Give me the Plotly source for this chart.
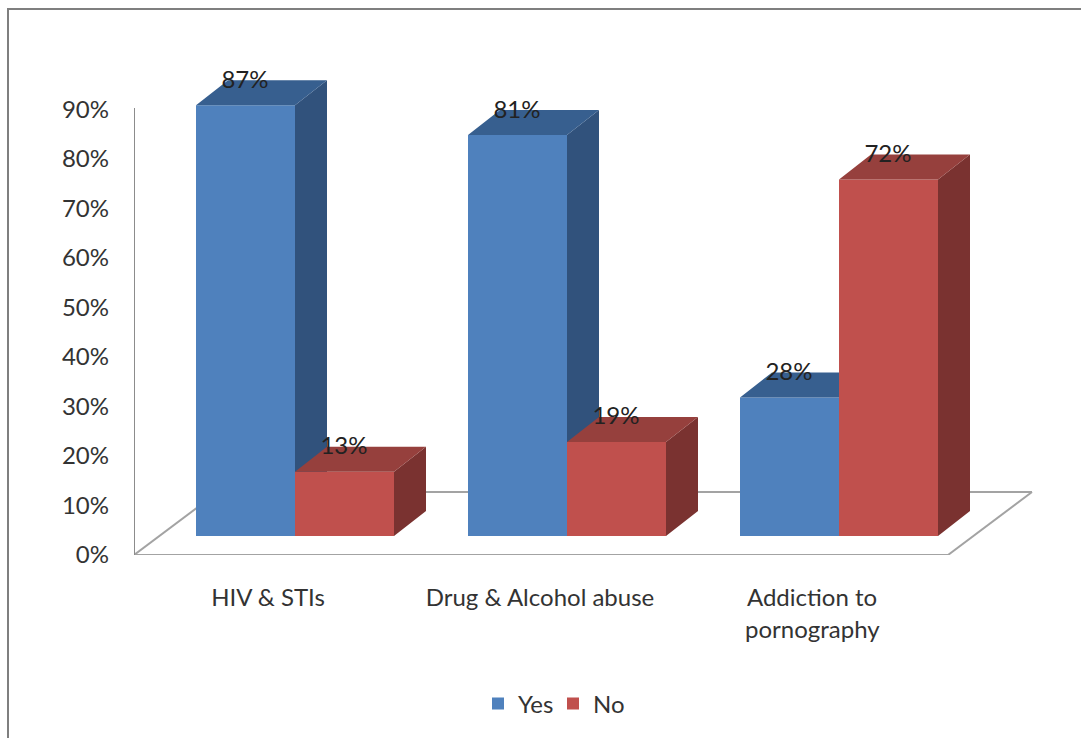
import plotly.graph_objects as go

# Survey results, percent of respondents
categories = ["HIV & STIs", "Drug & Alcohol abuse", "Addiction to", ]
second_lines = ["", "", "pornography"]
yes_values = [87, 81, 28]
no_values = [13, 19, 72]
percent_ticks = [0, 10, 20, 30, 40, 50, 60, 70, 80, 90]

WIDTH, HEIGHT = 1081, 738
FONT = "Lato, Carlito, 'Open Sans', sans-serif"
FONT_SIZE = 24
TEXT = "#333333"
GRID = "#a3a3a3"

# Plot frame, with the percent scale anchored on the front edge of the floor
LEFT, RIGHT, TOP, ZERO_Y = 134, 1040, 40, 555
PX_PER_PCT = 4.95
PX_PER_CAT = 272
FIRST_CAT_X = 268


def xval(px):
    return (px - FIRST_CAT_X) / PX_PER_CAT


def yval(px):
    return (ZERO_Y - px) / PX_PER_PCT


def xpaper(px):
    return (px - LEFT) / (RIGHT - LEFT)


def ypaper(px):
    return (ZERO_Y - px) / (ZERO_Y - TOP)


BAR_BASE = yval(536)
BAR_W = 99 / PX_PER_CAT
DX = 32 / PX_PER_CAT
DY = 25 / PX_PER_PCT
PAIR_SHIFT = 27 / PX_PER_CAT
LABEL_LIFT = 23.5 / PX_PER_PCT

positions = list(range(len(categories)))
yes_x = [p + PAIR_SHIFT - BAR_W / 2 for p in positions]
no_x = [p + PAIR_SHIFT + BAR_W / 2 for p in positions]


def top_faces(xs, values):
    px, py = [], []
    for x, v in zip(xs, values):
        t = BAR_BASE + v
        x0, x1 = x - BAR_W / 2, x + BAR_W / 2
        px += [x0, x0 + DX, x1 + DX, x1, x0, None]
        py += [t, t + DY, t + DY, t, t, None]
    return px, py


def side_faces(xs, values):
    px, py = [], []
    for x, v in zip(xs, values):
        t = BAR_BASE + v
        x1 = x + BAR_W / 2
        px += [x1, x1 + DX, x1 + DX, x1, x1, None]
        py += [BAR_BASE, BAR_BASE + DY, t + DY, t, BAR_BASE, None]
    return px, py


def face(xy, color, z):
    return go.Scatter(x=xy[0], y=xy[1], mode="lines", fill="toself", fillcolor=color,
                      line=dict(width=0, color=color), hoverinfo="skip",
                      showlegend=False, zorder=z)


def bars(name, xs, values, color, z):
    return go.Bar(name=name, x=xs, y=values, base=BAR_BASE, width=BAR_W,
                  marker=dict(color=color, line=dict(width=0)), zorder=z)


def value_labels(xs, values, z):
    return go.Scatter(x=[x - 0.5 / PX_PER_CAT for x in xs],
                      y=[BAR_BASE + v + LABEL_LIFT for v in values],
                      text=[f"{v}%" for v in values], mode="text",
                      textposition="middle center",
                      textfont=dict(family=FONT, size=FONT_SIZE, color="#222222"),
                      cliponaxis=False, hoverinfo="skip", showlegend=False, zorder=z)


fig = go.Figure()
fig.add_trace(bars("Yes", yes_x, yes_values, "#4f81bd", 0))
fig.add_trace(face(side_faces(yes_x, yes_values), "#31527c", 1))
fig.add_trace(face(top_faces(yes_x, yes_values), "#375f8f", 1))
fig.add_trace(bars("No", no_x, no_values, "#c0504d", 2))
fig.add_trace(face(side_faces(no_x, no_values), "#7a3230", 3))
fig.add_trace(face(top_faces(no_x, no_values), "#96403d", 3))
fig.add_trace(value_labels(yes_x, yes_values, 4))
fig.add_trace(value_labels(no_x, no_values, 4))

# Floor outline, value axis line and the outer frame of the chart
floor = [(134, 555), (948, 555), (1032, 492), (218, 492), (134, 555)]
shapes = [
    dict(type="line", xref="x", yref="y", layer="below",
         x0=xval(a[0]), y0=yval(a[1]), x1=xval(b[0]), y1=yval(b[1]),
         line=dict(color=GRID, width=2))
    for a, b in zip(floor[:-1], floor[1:])
]
shapes.append(dict(type="line", xref="x", yref="y", layer="below",
                   x0=xval(134), y0=0, x1=xval(134), y1=yval(108),
                   line=dict(color="#8c8c8c", width=2)))
shapes.append(dict(type="path", xref="paper", yref="paper", layer="below",
                   path=f"M {xpaper(8)} {ypaper(740)} L {xpaper(8)} {ypaper(9)} "
                        f"L {xpaper(1083)} {ypaper(9)}",
                   line=dict(color="#7f7f7f", width=2)))

annotations = [
    dict(xref="x", yref="paper", x=p, y=ypaper(628), text=t, showarrow=False,
         xanchor="center", yanchor="middle",
         font=dict(family=FONT, size=FONT_SIZE, color=TEXT))
    for p, t in zip(positions, second_lines) if t
]

fig.update_layout(
    width=WIDTH, height=HEIGHT,
    margin=dict(l=LEFT, r=WIDTH - RIGHT, t=TOP, b=HEIGHT - ZERO_Y, pad=0),
    paper_bgcolor="white", plot_bgcolor="rgba(0,0,0,0)",
    barmode="overlay", shapes=shapes, annotations=annotations,
    font=dict(family=FONT, size=FONT_SIZE, color=TEXT),
    xaxis=dict(range=[xval(LEFT), xval(RIGHT)], tickvals=positions, ticktext=categories,
               showgrid=False, zeroline=False, showline=False, ticks="",
               ticklabelstandoff=26, tickfont=dict(family=FONT, size=FONT_SIZE, color=TEXT)),
    yaxis=dict(range=[0, yval(TOP)], tickvals=percent_ticks,
               ticktext=[f"{t}%" for t in percent_ticks],
               showgrid=False, zeroline=False, showline=False, ticks="",
               ticklabelstandoff=24, tickfont=dict(family=FONT, size=FONT_SIZE, color=TEXT)),
    legend=dict(orientation="h", xanchor="center", x=xpaper(553), yanchor="middle",
                y=ypaper(704), entrywidth=30, entrywidthmode="pixels",
                font=dict(family=FONT, size=FONT_SIZE, color=TEXT),
                bgcolor="rgba(0,0,0,0)", traceorder="normal"),
)

fig.write_html("out.html")
